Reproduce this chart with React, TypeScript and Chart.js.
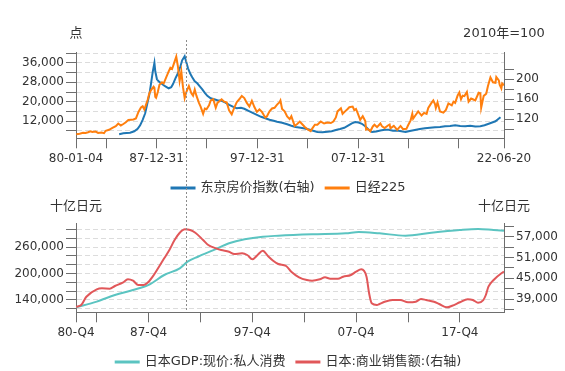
import React, { useEffect, useRef } from "react";
import { Chart, registerables } from "chart.js";
Chart.register(...registerables);

const FONT = "'DejaVu Sans', 'Noto Sans CJK SC', sans-serif";
const TEXT = "#333";
const AXIS = "#6e6e6e";
const GRID = "#dcdcdc";
const BLUE = "#1f77b4";
const ORANGE = "#ff7f0e";
const TEAL = "#5bc4c1";
const RED = "#e15759";

// ---------- top chart data ----------
const NIKKEI_DATES = [
  "1980-01","1980-05","1980-09","1980-12","1981-03","1981-06","1981-08","1981-12","1982-03","1982-07","1982-10","1982-12",
  "1983-04","1983-08","1983-12","1984-03","1984-06","1984-09","1984-12","1985-03","1985-06","1985-09","1985-12",
  "1986-03","1986-06","1986-08","1986-10","1986-12","1987-02","1987-04","1987-06","1987-09","1987-10","1987-11","1987-12",
  "1988-02","1988-04","1988-07","1988-09","1988-12","1989-03","1989-05","1989-07","1989-09","1989-12",
  "1990-02","1990-04","1990-06","1990-08","1990-10","1990-12","1991-03","1991-06","1991-08","1991-10","1991-12",
  "1992-03","1992-05","1992-08","1992-10","1992-12","1993-03","1993-05","1993-08","1993-11","1994-01","1994-06","1994-09","1994-12",
  "1995-03","1995-06","1995-09","1995-12","1996-03","1996-06","1996-09","1996-12","1997-03","1997-06","1997-09","1997-12",
  "1998-03","1998-06","1998-08","1998-10","1998-12","1999-03","1999-06","1999-09","1999-12","2000-03","2000-04","2000-06","2000-09","2000-12",
  "2001-03","2001-05","2001-07","2001-09","2001-12","2002-03","2002-06","2002-09","2002-12","2003-04","2003-06","2003-09","2003-12",
  "2004-04","2004-08","2004-12","2005-04","2005-07","2005-10","2005-12","2006-04","2006-06","2006-09","2006-12",
  "2007-02","2007-06","2007-08","2007-10","2007-12","2008-03","2008-06","2008-09","2008-10","2008-12","2009-03","2009-06","2009-08","2009-11",
  "2010-03","2010-05","2010-08","2010-12","2011-02","2011-03","2011-07","2011-11","2012-03","2012-06","2012-10","2012-12",
  "2013-03","2013-05","2013-06","2013-09","2013-12","2014-04","2014-07","2014-10","2014-12","2015-04","2015-06","2015-08","2015-09","2015-11",
  "2016-02","2016-06","2016-09","2016-12","2017-04","2017-06","2017-08","2017-11","2018-01","2018-03","2018-05","2018-07","2018-10","2018-12",
  "2019-03","2019-05","2019-08","2019-12","2020-02","2020-03","2020-06","2020-09","2020-11","2021-02","2021-05","2021-08","2021-09","2021-12",
  "2022-01","2022-03","2022-04","2022-06-20"
];
const NIKKEI_VALUES = [
  6600,6800,7150,7100,7400,7800,7500,7700,7100,7300,7000,8000,
  8400,9200,9900,11000,10200,10800,11500,12500,12600,12700,13100,
  15800,17600,18100,16800,18800,20800,23500,24800,26200,25700,22000,21600,
  24000,27000,28000,27500,30000,32500,34000,33500,35500,38600,
  34500,28500,32500,26000,21500,24000,26500,23500,22500,25000,22500,
  19500,18000,15000,17200,16900,18500,20500,21000,17500,19500,21000,20000,19700,
  16300,14800,17500,19800,21000,22400,21500,19500,18000,20400,17800,15800,
  16800,15800,14600,13500,14000,16000,17200,17500,18800,19800,20500,17000,16000,13900,
  12800,14000,12000,10000,10800,11800,10700,9600,8700,7900,9000,10500,10500,
  11800,11000,11400,11200,11800,13500,16000,17300,15000,16000,17000,
  17700,18000,16500,17000,15300,12500,14000,12000,8500,8800,7800,9800,10500,9500,
  11000,9800,9100,10200,10600,9000,10000,8400,10000,8700,8800,10300,
  12300,15000,13000,14500,16000,14300,15400,15000,17400,19600,20500,19000,17400,19700,
  16000,15500,16600,19300,18500,20000,19500,22600,23800,21000,22500,22300,24000,20000,
  21300,21000,20500,23700,23500,17500,22400,23300,26400,30000,28000,27800,30200,28800,
  27000,25500,27500,26800
];
const TOKYO_DATES = [
  "1984-04","1984-09","1985-01","1985-05","1985-10","1986-02","1986-05","1986-08","1986-11","1987-02","1987-04","1987-06","1987-08","1987-10","1987-11",
  "1988-01","1988-03","1988-06","1988-09","1988-12","1989-03","1989-06","1989-08","1989-11","1990-02","1990-05","1990-07","1990-10","1990-12",
  "1991-02","1991-05","1991-07","1991-10","1992-01","1992-04","1992-07","1992-10","1993-01","1993-05","1993-09","1994-01","1994-06","1994-10",
  "1995-03","1995-08","1995-12","1996-05","1996-09","1997-02","1997-07","1997-12","1998-05","1998-10","1999-03","1999-08","1999-12",
  "2000-06","2000-12","2001-05","2001-10","2002-04","2002-09","2003-03","2003-08","2003-12","2004-06","2004-12","2005-05","2005-10",
  "2006-03","2006-08","2007-01","2007-05","2007-09","2008-01","2008-05","2008-09","2009-01","2009-05","2009-10","2010-03","2010-08",
  "2011-01","2011-06","2011-11","2012-04","2012-09","2013-02","2013-08","2014-02","2014-08","2015-02","2015-08","2016-02","2016-08",
  "2017-02","2017-08","2018-02","2018-08","2019-02","2019-08","2020-02","2020-07","2020-12","2021-04","2021-08","2021-11","2022-02"
];
const TOKYO_VALUES = [
  90,92,92.5,93,96,101,108,119,132,155,170,192,215,233,216,
  200,196,192,188,185,182,184,190,202,212,226,238,246,234,
  222,210,204,196,192,186,180,173,167,162,160,158,157,154,
  149,145,142,143,141,137,133,129,125,122,119,117,115,
  113,110,107,104.5,103,101.5,99,96.5,94.5,94,95,96,98.5,
  100.5,103,108,112,114.5,113.5,111,106,99,94.5,95.5,97.5,99,
  99,97,97.5,96,94.5,96.5,98.5,100.5,102,103,104,104.5,106,
  106.5,108,106.5,106,107,105.5,106,108,111,113.5,116,120,124
];
const TOP_X_TICKS = ["1980-01-04","1982-12-31","1987-12-31","1992-12-31","1997-12-31","2002-12-31","2007-12-31","2012-12-31","2017-12-31","2022-06-20"];
const TOP_X_LABELS = ["80-01-04","","87-12-31","","97-12-31","","07-12-31","","","22-06-20"];
const TOP_L_TICKS = [8000,12000,16000,20000,24000,28000,32000,36000,40000];
const TOP_L_LABELS = [12000,20000,28000,36000];
const TOP_R_TICKS = [100,120,140,160,180,200,220];
const TOP_R_LABELS = [120,160,200];
const TOP_MARK = "1990-11-25";

// ---------- bottom chart data ----------
const GDP_Q = [
  "1980-Q4","1982-Q4","1984-Q3","1986-Q2","1987-Q4","1989-Q2","1990-Q4","1991-Q3","1992-Q3","1994-Q1","1995-Q3","1997-Q1",
  "1998-Q4","2000-Q2","2003-Q3","2006-Q4","2008-Q1","2010-Q1","2012-Q3","2015-Q1","2017-Q4","2019-Q3","2021-Q1","2022-Q1"
];
const GDP_VALUES = [
  123500,136200,151300,162600,174000,196600,211800,226700,238000,253000,268400,277500,
  283400,285600,288800,291000,294000,291000,285600,292400,298500,300800,298500,297000
];
const SALES_Q = [
  "1980-Q4","1981-Q2","1981-Q4","1982-Q4","1983-Q2","1984-Q1","1984-Q3","1985-Q2","1985-Q4","1986-Q2","1986-Q4","1987-Q2","1987-Q4",
  "1988-Q2","1988-Q4","1989-Q2","1989-Q4","1990-Q2","1990-Q4","1991-Q2","1991-Q4","1992-Q2","1993-Q1","1993-Q3","1994-Q2","1994-Q4",
  "1995-Q3","1996-Q1","1996-Q4","1997-Q2","1997-Q4","1998-Q2","1998-Q4","1999-Q2","1999-Q4","2000-Q2","2001-Q1","2001-Q3","2002-Q2",
  "2003-Q1","2003-Q3","2004-Q2","2004-Q4","2005-Q2","2006-Q1","2006-Q3","2007-Q2","2007-Q4","2008-Q2","2008-Q4","2009-Q1","2009-Q2",
  "2009-Q4","2010-Q1","2010-Q3","2011-Q2","2012-Q1","2012-Q4","2013-Q3","2014-Q1","2014-Q3","2015-Q2","2015-Q4","2016-Q3","2017-Q1",
  "2017-Q4","2018-Q3","2019-Q1","2019-Q3","2020-Q1","2020-Q2","2020-Q3","2021-Q1","2021-Q4","2022-Q1"
];
const SALES_VALUES = [
  36770,37270,39660,41800,42090,42000,42760,43710,44690,44290,43050,43050,44000,
  45940,48330,50760,53160,56050,58160,59140,58940,58160,56050,54600,53650,53160,
  52670,52000,52200,51720,50470,51720,52960,51430,50070,49110,48540,46890,45270,
  44490,44290,44690,45270,44870,44870,45440,45940,46890,47580,45440,40650,37760,
  37270,37560,38220,38710,38710,38050,38220,39000,38710,38220,37560,36600,37060,
  38050,38910,38710,37930,38710,40160,42560,44490,46430,46890
];
const BOT_X_TICKS = ["1980-Q4","1982-Q4","1987-Q4","1992-Q4","1997-Q4","2002-Q4","2007-Q4","2012-Q4","2017-Q4"];
const BOT_X_LABELS = ["80-Q4","","87-Q4","","97-Q4","","07-Q4","","17-Q4"];
const BOT_X_END = "2022-Q1";
const BOT_L_TICKS = [120000,140000,160000,180000,200000,220000,240000,260000,280000,300000];
const BOT_L_LABELS = [140000,200000,260000];
const BOT_R_TICKS = [36000,39000,42000,45000,48000,51000,54000,57000,60000];
const BOT_R_LABELS = [39000,45000,51000,57000];
const BOT_MARK = "1991-Q2";

function toYear(s: string): number {
  const q = s.match(/^(\d{4})-Q(\d)$/);
  if (q) return +q[1] + (+q[2] - 1) / 4;
  const p = s.split("-").map(Number);
  const day = p.length > 2 ? p[2] : 15;
  return p[0] + (p[1] - 1) / 12 + (day - 1) / 365;
}
const fmt = (v: number) => v.toLocaleString("en-US");

function yAxis(position: string, min: number, max: number, ticks: number[], labels: number[], grid: boolean, width: number) {
  return {
    type: "linear", position, min, max,
    afterBuildTicks: (s: any) => { s.ticks = ticks.map((v) => ({ value: v })); },
    afterFit: (s: any) => { s.width = width; },
    ticks: {
      autoSkip: false, padding: 2, color: TEXT, font: { family: FONT, size: 12 },
      callback: (v: any) => (labels.includes(v) ? fmt(v) : ""),
    },
    grid: { drawOnChartArea: grid, drawTicks: true, color: GRID, tickLength: 10, tickColor: AXIS, tickBorderDash: [], lineWidth: 1 },
    border: { display: true, color: AXIS, width: 1, dash: [5, 3] },
  };
}
function xAxis(min: number, max: number, ticks: number[], labels: string[], height: number) {
  return {
    type: "linear", position: "bottom", min, max,
    afterBuildTicks: (s: any) => { s.ticks = ticks.map((v) => ({ value: v })); },
    afterFit: (s: any) => { s.height = height; },
    ticks: {
      autoSkip: false, maxRotation: 0, minRotation: 0, padding: 3, color: TEXT, font: { family: FONT, size: 12 },
      callback: (_v: any, i: number) => labels[i] ?? "",
    },
    grid: { drawOnChartArea: false, drawTicks: true, tickLength: 10, tickColor: AXIS, tickBorderDash: [], color: AXIS },
    border: { display: true, color: AXIS, width: 1 },
  };
}

const namesPlugin = (left: string, right: string, y: number) => ({
  id: "axisNames",
  afterDraw(chart: any) {
    const { ctx, chartArea } = chart;
    ctx.save();
    ctx.font = `13px ${FONT}`;
    ctx.fillStyle = TEXT;
    ctx.textAlign = "center";
    ctx.textBaseline = "middle";
    ctx.fillText(left, chartArea.left, y);
    ctx.fillText(right, chartArea.right, y);
    ctx.restore();
  },
});
const legendPlugin = (y: number, cx: number) => ({
  id: "ownLegend",
  afterDraw(chart: any) {
    const ctx = chart.ctx;
    ctx.save();
    ctx.font = `13px ${FONT}`;
    const items = chart.data.datasets.map((d: any) => ({ label: d.label, color: d.borderColor }));
    const iconW = 25, gap1 = 5, gap2 = 10;
    const widths = items.map((it: any) => iconW + gap1 + ctx.measureText(it.label).width);
    const total = widths.reduce((a: number, b: number) => a + b, 0) + gap2 * (items.length - 1);
    let x = cx - total / 2;
    items.forEach((it: any, i: number) => {
      ctx.strokeStyle = it.color;
      ctx.lineWidth = 3;
      ctx.beginPath();
      ctx.moveTo(x, y);
      ctx.lineTo(x + iconW, y);
      ctx.stroke();
      ctx.fillStyle = TEXT;
      ctx.textAlign = "left";
      ctx.textBaseline = "middle";
      ctx.fillText(it.label, x + iconW + gap1, y);
      x += widths[i] + gap2;
    });
    ctx.restore();
  },
});
const vlinePlugin = (value: number, y1: (c: any) => number, y2: (c: any) => number) => ({
  id: "vline",
  afterDraw(chart: any) {
    const { ctx } = chart;
    const x = Math.round(chart.scales.x.getPixelForValue(value)) + 0.5;
    ctx.save();
    ctx.strokeStyle = "#8c8c8c";
    ctx.lineWidth = 1;
    ctx.setLineDash([2, 2]);
    ctx.beginPath();
    ctx.moveTo(x, y1(chart));
    ctx.lineTo(x, y2(chart));
    ctx.stroke();
    ctx.restore();
  },
});

const W = 565;
const TOP_H = 196;
const BOT_H = 175;

export default function App() {
  const topRef = useRef<HTMLCanvasElement>(null);
  const botRef = useRef<HTMLCanvasElement>(null);

  useEffect(() => {
    const top = new Chart(topRef.current as HTMLCanvasElement, {
      type: "line",
      data: {
        datasets: [
          {
            label: "东京房价指数(右轴)",
            data: TOKYO_DATES.map((d, i) => ({ x: toYear(d), y: TOKYO_VALUES[i] })),
            yAxisID: "yR", borderColor: BLUE, backgroundColor: BLUE, borderWidth: 2, pointRadius: 0, tension: 0, order: 1,
          },
          {
            label: "日经225",
            data: NIKKEI_DATES.map((d, i) => ({ x: toYear(d), y: NIKKEI_VALUES[i] })),
            yAxisID: "yL", borderColor: ORANGE, backgroundColor: ORANGE, borderWidth: 2, pointRadius: 0, tension: 0, order: 0,
          },
        ],
      } as any,
      options: {
        animation: false, responsive: false, devicePixelRatio: 1, events: [],
        layout: { padding: { top: 52.5, left: 0, right: 0, bottom: 0 } },
        plugins: { legend: { display: false }, tooltip: { enabled: false } },
        scales: {
          x: xAxis(toYear(TOP_X_TICKS[0]), toYear(TOP_X_TICKS[TOP_X_TICKS.length - 1]), TOP_X_TICKS.map(toYear), TOP_X_LABELS, TOP_H - 138.3),
          yL: yAxis("left", 4900, 40300, TOP_L_TICKS, TOP_L_LABELS, true, 76),
          yR: yAxis("right", 82, 253.6, TOP_R_TICKS, TOP_R_LABELS, false, W - 504),
        } as any,
      },
      plugins: [
        namesPlugin("点", "2010年=100", 34),
        legendPlugin(188, 288),
        vlinePlugin(toYear(TOP_MARK), () => 40, (c) => c.height),
      ],
    });

    const bot = new Chart(botRef.current as HTMLCanvasElement, {
      type: "line",
      data: {
        datasets: [
          {
            label: "日本GDP:现价:私人消费",
            data: GDP_Q.map((d, i) => ({ x: toYear(d), y: GDP_VALUES[i] })),
            yAxisID: "yL", borderColor: TEAL, backgroundColor: TEAL, borderWidth: 2, pointRadius: 0,
            tension: 0.4, cubicInterpolationMode: "monotone", order: 1,
          },
          {
            label: "日本:商业销售额:(右轴)",
            data: SALES_Q.map((d, i) => ({ x: toYear(d), y: SALES_VALUES[i] })),
            yAxisID: "yR", borderColor: RED, backgroundColor: RED, borderWidth: 2, pointRadius: 0,
            tension: 0.4, cubicInterpolationMode: "monotone", order: 0,
          },
        ],
      } as any,
      options: {
        animation: false, responsive: false, devicePixelRatio: 1, events: [],
        layout: { padding: { top: 27.3, left: 0, right: 0, bottom: 0 } },
        plugins: { legend: { display: false }, tooltip: { enabled: false } },
        scales: {
          x: xAxis(toYear(BOT_X_TICKS[0]), toYear(BOT_X_END), BOT_X_TICKS.map(toYear), BOT_X_LABELS, BOT_H - 116.3),
          yL: yAxis("left", 112100, 313700, BOT_L_TICKS, BOT_L_LABELS, true, 76),
          yR: yAxis("right", 35160, 60880, BOT_R_TICKS, BOT_R_LABELS, false, W - 504),
        } as any,
      },
      plugins: [
        namesPlugin("十亿日元", "十亿日元", 10.7),
        legendPlugin(166, 288),
        vlinePlugin(toYear(BOT_MARK) + 0.1, () => 0, (c) => c.chartArea.bottom - 2),
      ],
    });

    return () => {
      top.destroy();
      bot.destroy();
    };
  }, []);

  return (
    <div style={{ position: "absolute", left: 0, top: 0, width: W, height: TOP_H + BOT_H, background: "#fff" }}>
      <canvas ref={topRef} width={W} height={TOP_H} style={{ display: "block", width: W, height: TOP_H }} />
      <canvas ref={botRef} width={W} height={BOT_H} style={{ display: "block", width: W, height: BOT_H }} />
    </div>
  );
}
